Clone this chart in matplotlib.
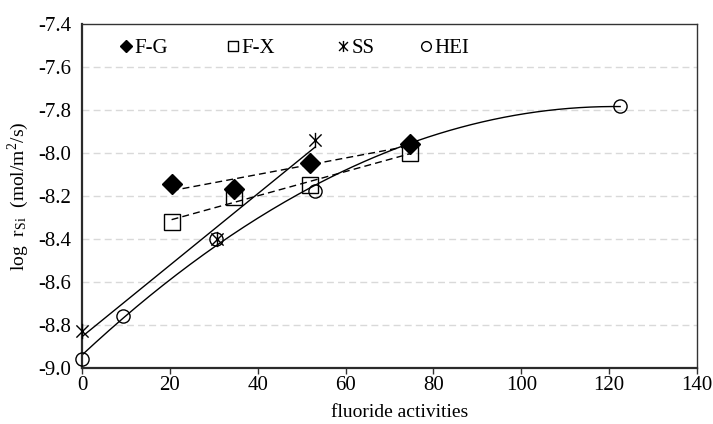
import numpy as np
import matplotlib
matplotlib.use("Agg")
import matplotlib.pyplot as plt
from matplotlib.path import Path
from matplotlib.lines import Line2D
from matplotlib.legend import Legend

plt.rcParams['font.family'] = ['Liberation Serif', 'DejaVu Serif']
plt.rcParams['mathtext.fontset'] = 'stix'

# data
fg_x = [20.4, 34.7, 51.9, 74.7]
fg_y = [-8.144, -8.166, -8.048, -7.958]
fx_x = [20.4, 34.7, 51.9, 74.7]
fx_y = [-8.322, -8.203, -8.149, -8.000]
ss_x = [0.0, 30.8, 53.0]
ss_y = [-8.830, -8.400, -7.940]
hei_x = [0.0, 9.3, 30.6, 53.1, 122.5]
hei_y = [-8.958, -8.757, -8.401, -8.175, -7.781]

xticks = [0, 20, 40, 60, 80, 100, 120, 140]
yticks = [-9.0, -8.8, -8.6, -8.4, -8.2, -8.0, -7.8, -7.6, -7.4]

# asterisk marker: x plus vertical bar
star_path = Path(
    [(-1, -1), (1, 1), (-1, 1), (1, -1), (0, -1.25), (0, 1.25)],
    [Path.MOVETO, Path.LINETO, Path.MOVETO, Path.LINETO, Path.MOVETO, Path.LINETO])

fig = plt.figure(figsize=(7.13, 4.24), dpi=100)
ax = fig.add_axes([0.115, 0.132, 0.8626, 0.8114])

FS = 15
LFS = 14

def fit_line(x, y, deg, ls):
    c = np.polyfit(x, y, deg)
    xs = np.linspace(min(x), max(x), 200)
    ax.plot(xs, np.polyval(c, xs), color='black', lw=1.0, ls=ls, zorder=2)

fit_line(fg_x, fg_y, 1, (0, (5, 3)))
fit_line(fx_x, fx_y, 1, (0, (5, 3)))
fit_line(ss_x, ss_y, 1, '-')
fit_line(hei_x, hei_y, 2, '-')

ax.plot(fx_x, fx_y, ls='none', marker='s', ms=11.5, mfc='none', mec='black', mew=1.0, zorder=3, clip_on=False)
ax.plot(fg_x, fg_y, ls='none', marker='D', ms=10, mfc='black', mec='black', mew=1.0, zorder=4, clip_on=False)
ax.plot(hei_x, hei_y, ls='none', marker='o', ms=9.5, mfc='none', mec='black', mew=1.0, zorder=3, clip_on=False)
ax.plot(ss_x, ss_y, ls='none', marker=star_path, ms=11, mfc='none', mec='black', mew=1.0, zorder=5, clip_on=False)

ax.set_xlim(0, 140)
ax.set_ylim(-9.0, -7.4)
ax.set_xticks(xticks)
ax.set_yticks(yticks)
ax.set_yticklabels([f"{v:.1f}" for v in yticks])
ax.tick_params(axis='x', direction='out', length=4, width=1, color='#333333', labelsize=FS, pad=2)
ax.tick_params(axis='y', length=0, labelsize=FS, pad=8)

for y in yticks[1:-1]:
    ax.axhline(y, color='#d9d9d9', lw=1.0, ls=(0, (5, 3)), zorder=0)

for s in ['left', 'bottom']:
    ax.spines[s].set_linewidth(1.6)
    ax.spines[s].set_color('#2b2b2b')
for s in ['top', 'right']:
    ax.spines[s].set_linewidth(1.0)
    ax.spines[s].set_color('#333333')

ax.set_xlabel('fluoride activities', fontsize=LFS)
ax.xaxis.set_label_coords(0.517, -0.105)
ax.set_ylabel(r'log  r$_{\mathregular{Si}}$  (mol/m$^{\mathregular{2}}$/s)', fontsize=LFS, labelpad=5)

# legend entries
handles = [
    (Line2D([], [], ls='none', marker='D', ms=6.5, mfc='black', mec='black'), 'F-G', 0.062),
    (Line2D([], [], ls='none', marker='s', ms=7.5, mfc='none', mec='black'), 'F-X', 0.235),
    (Line2D([], [], ls='none', marker=star_path, ms=8, mfc='none', mec='black'), 'SS', 0.414),
    (Line2D([], [], ls='none', marker='o', ms=7, mfc='none', mec='black'), 'HEI', 0.549),
]
for h, lab, xpos in handles:
    leg = Legend(ax, [h], [lab], loc='center left', bbox_to_anchor=(xpos, 0.93),
                 frameon=False, fontsize=FS, handlelength=0.6, handletextpad=0.1,
                 borderaxespad=0, borderpad=0)
    ax.add_artist(leg)

fig.savefig('out.png', dpi=100)
